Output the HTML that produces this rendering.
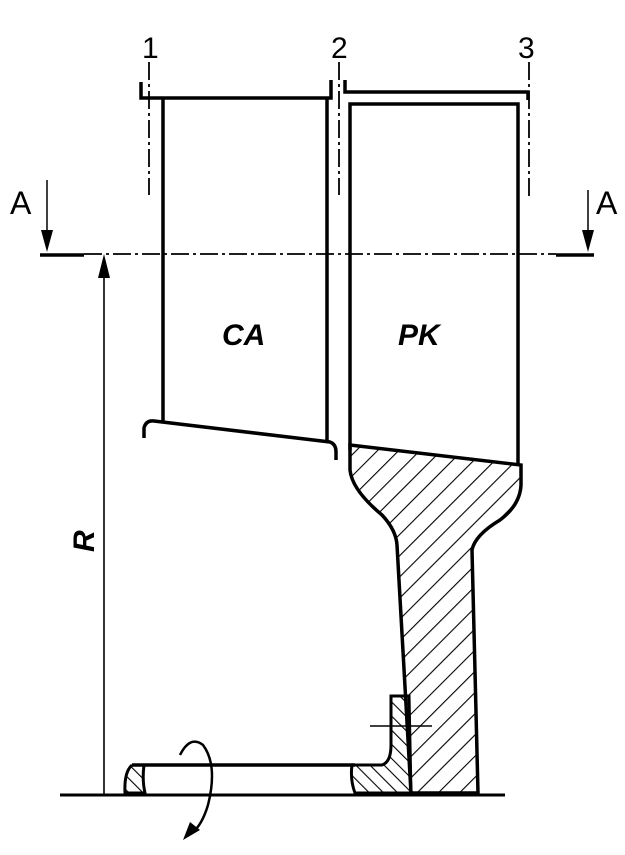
<!DOCTYPE html>
<html><head><style>body{margin:0;background:#fff}svg{display:block}</style></head><body>
<svg width="625" height="855" viewBox="0 0 625 855" xmlns="http://www.w3.org/2000/svg">
<defs>
<pattern id="h1" patternUnits="userSpaceOnUse" width="15" height="15" patternTransform="rotate(45)"><line x1="0" y1="0" x2="0" y2="15" stroke="#000" stroke-width="2.2"/></pattern>
<pattern id="h2" patternUnits="userSpaceOnUse" width="10" height="10" patternTransform="rotate(-45)"><line x1="0" y1="0" x2="0" y2="10" stroke="#000" stroke-width="2.2"/></pattern>
</defs>
<g font-family="Liberation Sans, sans-serif" fill="#000">
<text x="142" y="58" font-size="30">1</text>
<text x="331" y="58" font-size="30">2</text>
<text x="518" y="58" font-size="30">3</text>
<text x="10" y="214" font-size="32">A</text>
<text x="596" y="214" font-size="32">A</text>
<text x="222" y="345" font-size="30" font-style="italic" font-weight="bold">CA</text>
<text x="398" y="345" font-size="30" font-style="italic" font-weight="bold">PK</text>
<text font-size="30" font-style="italic" font-weight="bold" transform="translate(94,552) rotate(-90)">R</text>
</g>
<g stroke="#000" fill="none">
<g stroke-width="1.8" stroke-dasharray="18,4,3,4">
<line x1="149" y1="62" x2="149" y2="195"/>
<line x1="339" y1="62" x2="339" y2="195"/>
<line x1="529" y1="62" x2="529" y2="198"/>
<line x1="84" y1="254" x2="556" y2="254"/>
</g>
<line x1="40" y1="255" x2="84" y2="255" stroke-width="3.5"/>
<line x1="556" y1="255" x2="594" y2="255" stroke-width="3.5"/>
<line x1="60" y1="795" x2="505" y2="795" stroke-width="3"/>
<line x1="47" y1="180" x2="47" y2="232" stroke-width="1.5"/>
<line x1="588" y1="190" x2="588" y2="232" stroke-width="1.5"/>
<line x1="104" y1="270" x2="104" y2="795" stroke-width="1.6"/>
<g stroke-width="3.5">
<path d="M141 82 V98 H331 V80"/>
<line x1="163" y1="98" x2="163" y2="422"/>
<line x1="327" y1="98" x2="327" y2="443"/>
<path d="M144 438 V428 Q146 420 154 421 L330 442 Q336 444 336 452 V460"/>
<path d="M345 80 V92 H528 V100"/>
<path d="M350 450 V104 H518 V465"/>
</g>
<path d="M350 445 L521 465 V485 Q520 505 500 520 Q475 535 472 550 L478 793 H411 V793 L397 545 Q396 530 382 515 Q352 490 350 470 Z" fill="url(#h1)" stroke-width="3.5"/>
<path d="M391 696 H409 L411 793 H355 Q350 780 352 765 H382 Q391 762 391 745 Z" fill="url(#h2)" stroke-width="3"/>
<line x1="370" y1="726" x2="432" y2="726" stroke-width="1.6"/>
<path d="M132 765 H355" stroke-width="3.5"/>
<path d="M132 765 Q124 772 125 793 H145 Q142 780 144 765" fill="url(#h2)" stroke-width="3"/>
<path d="M180 755 Q190 735 203 745 Q218 765 208 805 Q202 825 192 833" stroke-width="2.5"/>
</g>
<g fill="#000">
<polygon points="41,230 53,230 47,252"/>
<polygon points="582,230 594,230 588,252"/>
<polygon points="98,278 110,278 104,254"/>
<polygon points="183,840 190,822 200,830"/>
</g>
</svg>
</body></html>
